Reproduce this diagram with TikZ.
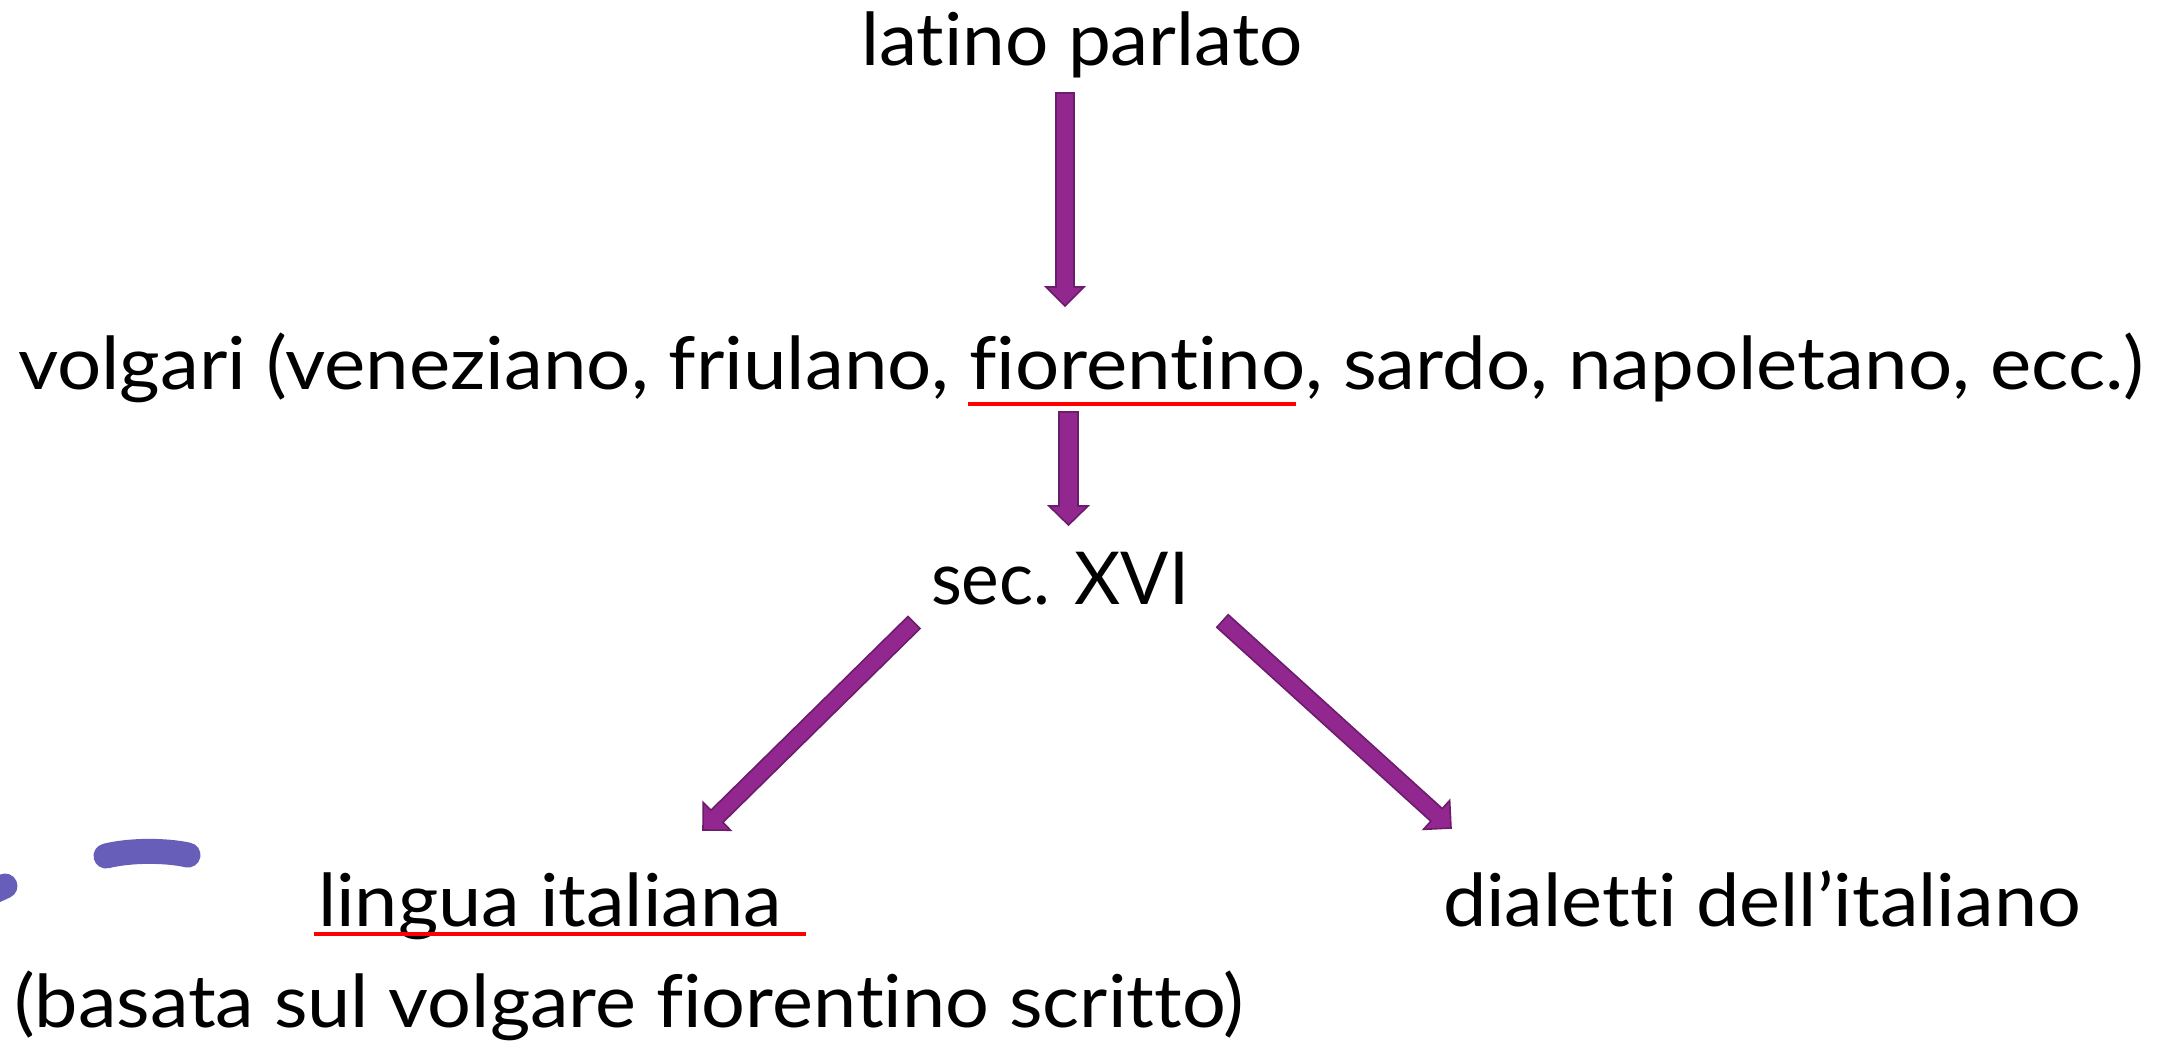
\documentclass[tikz,border=0pt]{standalone}
\usepackage{fontspec}
\setmainfont{Lato}[RawFeature={-liga;-dlig;-clig;-calt}]
\usetikzlibrary{calc}
\definecolor{arrfill}{RGB}{146,39,143}
\definecolor{arrline}{RGB}{108,28,108}
\definecolor{ulred}{RGB}{255,0,0}
\definecolor{pen}{RGB}{102,94,184}
\newcommand\fitw[2]{\resizebox{#1pt}{\height}{#2}}
% tail, tip, half shaft, half head, head length
\newcommand\blkarrow[5]{%
  \coordinate (#2-hb) at ($(#2)!#5pt!(#1)$);
  \filldraw[blockarrow] ($(#1)!#3pt!90:(#2)$) -- ($(#2-hb)!#3pt!-90:(#1)$) -- ($(#2-hb)!#4pt!-90:(#1)$) -- (#2) -- ($(#2-hb)!#4pt!90:(#1)$) -- ($(#2-hb)!#3pt!90:(#1)$) -- ($(#1)!#3pt!-90:(#2)$) -- cycle;}
\tikzset{
  txt/.style={inner sep=0pt, outer sep=0pt, anchor=base west, font=\fontsize{73}{80}\selectfont},
  blockarrow/.style={fill=arrfill, draw=arrline, line width=1.6pt, line join=miter},
  redline/.style={draw=ulred, line width=3.8pt},
  penstroke/.style={draw=pen, line width=25pt, line cap=round}
}
\begin{document}
\begin{tikzpicture}[x=1pt, y=-1pt]
\useasboundingbox (0,0) rectangle (2173,1046);
\fill[white] (0,0) rectangle (2173,1046);

% texts
\node[txt] (lat)  at (861,66)   {\fitw{442}{latino parlato}};
\node[txt] (volg) at (18,389)   {\fitw{2126}{volgari (veneziano, friulano, fiorentino, sardo, napoletano, ecc.)}};
\node[txt] (sec)  at (931,604)  {\fitw{258}{sec. XVI}};
\node[txt] (ling) at (318,926)  {\fitw{464}{lingua italiana}};
\node[txt] (dial) at (1443,926) {\fitw{638}{dialetti dell’italiano}};
\node[txt] (bas)  at (14,1027)  {\fitw{1230}{(basata sul volgare fiorentino scritto)}};

% underlines
\coordinate (u1a) at (968,404);  \coordinate (u1b) at (1296,404);
\coordinate (u2a) at (314,934);  \coordinate (u2b) at (806,934);
\draw[redline] (u1a) -- (u1b);
\draw[redline] (u2a) -- (u2b);

% arrow end points
\coordinate (a1t) at (1065,93);    \coordinate (a1h) at (1065,306);
\coordinate (a2t) at (1068.5,412); \coordinate (a2h) at (1068.5,525);
\coordinate (a3t) at (914,622.5);  \coordinate (a3h) at (703,830);
\coordinate (a4t) at (1222.5,621); \coordinate (a4h) at (1451,828);
\blkarrow{a1t}{a1h}{9}{19}{19}
\blkarrow{a2t}{a2h}{9.5}{19.5}{19}
\blkarrow{a3t}{a3h}{8.5}{19.5}{19.5}
\blkarrow{a4t}{a4h}{8.5}{19.5}{19.5}

% pen strokes
\begin{scope}
\clip (0,0) rectangle (2173,1046);
\coordinate (p1) at (106,856);
\coordinate (p2) at (188,855);
\draw[penstroke] (p1) .. controls (130,850) and (165,850) .. (p2);
\coordinate (p3) at (-30,902);
\coordinate (p4) at (5,886);
\draw[penstroke] (p3) -- (p4);
\end{scope}
\end{tikzpicture}
\end{document}
